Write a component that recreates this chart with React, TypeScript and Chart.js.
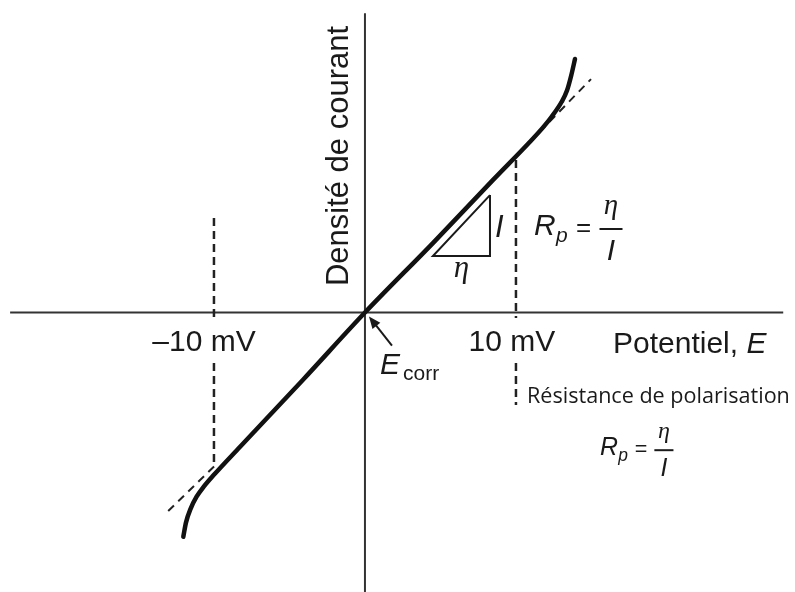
import { useEffect, useRef } from "react";
import { Chart, registerables } from "chart.js";

Chart.register(...registerables);

// Polarisation curve: potential (mV vs E_corr) and current density (arb. units)
const potentialMv = [-12.03, -11.85, -11.55, -11.15, -10.65, -10.05, -8.3, -4.1, 0, 4.5, 8.5, 10.93, 11.81, 12.36, 13.03, 13.38, 13.66, 13.91];
const currentDensity = [-14.85, -13.9, -13.0, -12.2, -11.5, -10.8, -8.92, -4.45, 0, 4.6, 8.8, 11.31, 12.28, 12.97, 13.96, 14.7, 15.7, 16.79];

// Linear extrapolations beyond the linear region
const lowerTangentE = [-13.03, -9.9];
const lowerTangentI = [-13.15, -10.1];
const upperTangentE = [10.93, 14.97];
const upperTangentI = [11.31, 15.46];

// Guides at ±10 mV, broken where the tick labels sit
const guideE = [-10, 10];
const leftGuideUpperI = [6.26, -0.36];
const leftGuideLowerI = [-3.34, -10.1];
const rightGuideUpperI = [10.1, -0.36];
const rightGuideLowerI = [-3.34, -6.13];

// Slope triangle (eta over I)
const triangleE = [8.28, 8.28, 4.5, 8.28];
const triangleI = [7.78, 3.74, 3.74, 7.78];

// Axis extents
const axisE = [-23.5, 27.7];
const axisI = [19.83, -18.6];

const tickLabels = ["\u201310 mV", "10 mV"];
const xTitle = "Potentiel, ";
const yTitle = "Densit\u00e9 de courant";
const noteText = "R\u00e9sistance de polarisation";

const zip = (xs: number[], ys: number[]) => xs.map((x, i) => ({ x, y: ys[i] }));

const SANS = '"Liberation Sans", Arial, Helvetica, sans-serif';
const SERIF = '"Liberation Serif", "DejaVu Serif", serif';

function drawFormula(ctx: CanvasRenderingContext2D, x: number, y: number, s: number) {
  // R_p = eta / I, with y the baseline of R and s the scale
  ctx.textAlign = "left";
  ctx.font = `italic ${30 * s}px ${SANS}`;
  ctx.fillText("R", x, y);
  ctx.font = `italic ${21 * s}px ${SANS}`;
  ctx.fillText("p", x + 22 * s, y + 7 * s);
  ctx.font = `${26 * s}px ${SANS}`;
  ctx.fillText("=", x + 42 * s, y + 1 * s);
  const cx = x + 77 * s;
  ctx.textAlign = "center";
  ctx.font = `italic ${29 * s}px ${SERIF}`;
  ctx.fillText("\u03b7", cx, y - 21 * s);
  ctx.fillRect(cx - 11.5 * s, y - 7 * s, 23 * s, 2);
  ctx.font = `italic ${30 * s}px ${SANS}`;
  ctx.fillText("I", cx, y + 25 * s);
}

const labelsPlugin = {
  id: "diagramLabels",
  afterDatasetsDraw(chart: any) {
    const ctx: CanvasRenderingContext2D = chart.ctx;
    const px = (v: number) => chart.scales.x.getPixelForValue(v);
    const py = (v: number) => chart.scales.y.getPixelForValue(v);
    const ox = px(0);
    const oy = py(0);
    ctx.save();
    ctx.fillStyle = "#1a1a1a";
    ctx.strokeStyle = "#1a1a1a";
    ctx.textBaseline = "alphabetic";

    // tick labels
    ctx.font = `30px ${SANS}`;
    ctx.textAlign = "center";
    ctx.fillText(tickLabels[0], px(guideE[0]) - 10, oy + 38);
    ctx.fillText(tickLabels[1], px(guideE[1]) - 4, oy + 38);

    // x title
    ctx.textAlign = "left";
    ctx.fillText(xTitle, 613, oy + 40);
    const w = ctx.measureText(xTitle).width;
    ctx.font = `italic 30px ${SANS}`;
    ctx.fillText("E", 613 + w, oy + 40);

    // y title
    ctx.save();
    ctx.translate(ox - 17, 156);
    ctx.rotate(-Math.PI / 2);
    ctx.textAlign = "center";
    ctx.font = `31px ${SANS}`;
    ctx.fillText(yTitle, 0, 0);
    ctx.restore();

    // E_corr label and arrow
    ctx.textAlign = "left";
    ctx.font = `italic 30px ${SANS}`;
    ctx.fillText("E", ox + 15, oy + 61);
    ctx.font = `21px ${SANS}`;
    ctx.fillText("corr", ox + 38, oy + 67);
    const tx = ox + 4, ty = oy + 4;
    const sx = ox + 27, sy = oy + 33;
    const ang = Math.atan2(ty - sy, tx - sx);
    ctx.lineWidth = 2;
    ctx.beginPath();
    ctx.moveTo(sx, sy);
    ctx.lineTo(tx - 6 * Math.cos(ang), ty - 6 * Math.sin(ang));
    ctx.stroke();
    ctx.beginPath();
    ctx.moveTo(tx, ty);
    ctx.lineTo(tx - 12 * Math.cos(ang) + 5 * Math.sin(ang), ty - 12 * Math.sin(ang) - 5 * Math.cos(ang));
    ctx.lineTo(tx - 12 * Math.cos(ang) - 5 * Math.sin(ang), ty - 12 * Math.sin(ang) + 5 * Math.cos(ang));
    ctx.closePath();
    ctx.fill();

    // triangle labels
    ctx.textAlign = "left";
    ctx.font = `italic 31px ${SANS}`;
    ctx.fillText("I", px(triangleE[0]) + 5, 237);
    ctx.textAlign = "center";
    ctx.font = `italic 31px ${SERIF}`;
    ctx.fillText("\u03b7", (px(triangleE[0]) + px(triangleE[2])) / 2, 277);

    // formulas
    drawFormula(ctx, 534, 235, 1);
    drawFormula(ctx, 600, 455, 0.83);

    // note
    ctx.textAlign = "left";
    ctx.font = `24px "Open Sans", sans-serif`;
    const nw = ctx.measureText(noteText).width;
    const size = (24 * 263) / nw;
    ctx.font = `${size}px "Open Sans", sans-serif`;
    ctx.fillText(noteText, 527, 403);

    ctx.restore();
  },
};

export default function App() {
  const canvasRef = useRef<HTMLCanvasElement>(null);

  useEffect(() => {
    const canvas = canvasRef.current;
    if (!canvas) return;
    const line = { pointRadius: 0, pointHoverRadius: 0, showLine: true, fill: false };
    const guide = { ...line, borderColor: "#222222", borderWidth: 2.5, borderDash: [8, 5] };
    const tangent = { ...line, borderColor: "#222222", borderWidth: 2, borderDash: [8, 6] };
    const axis = { ...line, borderColor: "#333333", borderWidth: 2 };
    const chart = new Chart(canvas, {
      type: "scatter",
      data: {
        datasets: [
          {
            ...line,
            data: zip(potentialMv, currentDensity),
            borderColor: "#111111",
            borderWidth: 4.5,
            borderCapStyle: "round",
            cubicInterpolationMode: "monotone",
          },
          {
            ...line,
            data: zip(triangleE, triangleI),
            borderColor: "#1a1a1a",
            borderWidth: 2,
            borderJoinStyle: "miter",
          },
          { ...tangent, data: zip(lowerTangentE, lowerTangentI) },
          { ...tangent, data: zip(upperTangentE, upperTangentI) },
          { ...guide, data: zip([guideE[0], guideE[0]], leftGuideUpperI) },
          { ...guide, data: zip([guideE[0], guideE[0]], leftGuideLowerI) },
          { ...guide, data: zip([guideE[1], guideE[1]], rightGuideUpperI) },
          { ...guide, data: zip([guideE[1], guideE[1]], rightGuideLowerI) },
          { ...axis, data: zip(axisE, [0, 0]) },
          { ...axis, data: zip([0, 0], axisI) },
        ],
      },
      options: {
        responsive: false,
        devicePixelRatio: 1,
        animation: false,
        layout: { padding: 0 },
        events: [],
        scales: {
          x: { type: "linear", display: false, min: -24.17, max: 28.48 },
          y: { type: "linear", display: false, min: -18.51, max: 20.7 },
        },
        plugins: {
          legend: { display: false },
          tooltip: { enabled: false },
        },
      },
      plugins: [labelsPlugin],
    } as any);
    return () => chart.destroy();
  }, []);

  return (
    <div style={{ position: "fixed", left: 0, top: 0, width: 795, height: 592, background: "#ffffff" }}>
      <canvas ref={canvasRef} width={795} height={592} style={{ display: "block" }} />
    </div>
  );
}
